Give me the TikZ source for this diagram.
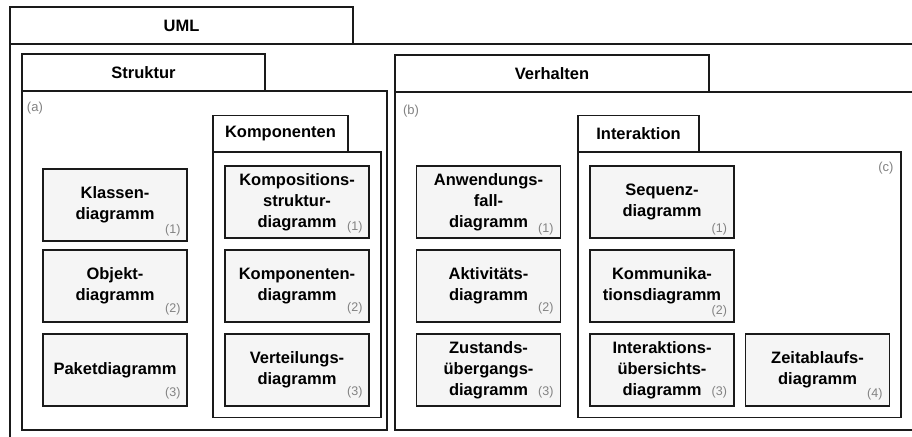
\documentclass[tikz,border=0pt]{standalone}
\usepackage{fontspec}
\setmainfont{Liberation Sans}
\definecolor{numgray}{HTML}{828282}
\definecolor{boxfill}{HTML}{F5F5F5}
\definecolor{linecol}{HTML}{1A1A1A}
\begin{document}
\begin{tikzpicture}[x=1pt,y=-1pt,
  every node/.style={inner sep=0pt, outer sep=0pt},
  frame/.style={draw=linecol, line width=1.2pt, fill=white, anchor=north west},
  tabtitle/.style={frame, font=\fontsize{16.5}{21}\selectfont\bfseries},
  diag/.style={draw=linecol, line width=1.2pt, fill=boxfill, anchor=north west,
    minimum width=144pt, minimum height=72pt, align=center,
    font=\fontsize{16.5}{21}\selectfont\bfseries},
  num/.style={anchor=base east, text=numgray, font=\fontsize{12.5}{15}\selectfont},
  tag/.style={anchor=north west, text=numgray, font=\fontsize{13}{15}\selectfont}]

  \path[use as bounding box, clip] (0,0) rectangle (912,436);

  % outer UML package (runs past the right and bottom edge)
  \node[frame, minimum width=960pt, minimum height=460pt] (umlbody) at (10,44) {};
  \node[tabtitle, minimum width=343pt, minimum height=37pt] (umltab) at (10,7) {UML};

  % Struktur package
  \node[frame, minimum width=365pt, minimum height=339pt] (strbody) at (22,91) {};
  \node[tabtitle, minimum width=243pt, minimum height=37pt] (strtab) at (22,54) {Struktur};
  \node[tag] (taga) at (27,102.5) {(a)};

  % Verhalten package (runs past the right edge)
  \node[frame, minimum width=560pt, minimum height=338pt] (verbody) at (395,92) {};
  \node[tabtitle, minimum width=314pt, minimum height=37pt] (vertab) at (395,55) {Verhalten};
  \node[tag] (tagb) at (403,105.5) {(b)};

  % Komponenten package
  \node[frame, minimum width=168pt, minimum height=265.5pt] (kombody) at (213,152) {};
  \node[tabtitle, minimum width=135pt, minimum height=36.5pt] (komtab) at (213,115.5) {Komponenten};

  % Interaktion package
  \node[frame, minimum width=323pt, minimum height=265.5pt] (intbody) at (578,152) {};
  \node[tabtitle, minimum width=121pt, minimum height=36.5pt] (inttab) at (578,115.5) {Interaktion};
  \node[tag, anchor=north east] (tagc) at (893.5,162.5) {(c)};

  % structure diagrams
  \node[diag] (klassen) at (43,169) {Klassen-\\diagramm};
  \node[num] (nklassen) at ([xshift=-6.5pt,yshift=7.5pt]klassen.south east) {(1)};
  \node[diag] (objekt) at (43,250) {Objekt-\\diagramm};
  \node[num] (nobjekt) at ([xshift=-6.5pt,yshift=9.5pt]objekt.south east) {(2)};
  \node[diag] (paket) at (43,334) {Paketdiagramm};
  \node[num] (npaket) at ([xshift=-6.5pt,yshift=9.5pt]paket.south east) {(3)};

  \node[diag] (kompos) at (225,166) {Kompositions-\\struktur-\\diagramm};
  \node[num] (nkompos) at ([xshift=-6.5pt,yshift=7.5pt]kompos.south east) {(1)};
  \node[diag] (kompon) at (225,250) {Komponenten-\\diagramm};
  \node[num] (nkompon) at ([xshift=-6.5pt,yshift=10.5pt]kompon.south east) {(2)};
  \node[diag] (verteil) at (225,334) {Verteilungs-\\diagramm};
  \node[num] (nverteil) at ([xshift=-6.5pt,yshift=10.5pt]verteil.south east) {(3)};

  % behaviour diagrams
  \node[diag] (anwend) at (416.5,166) {Anwendungs-\\fall-\\diagramm};
  \node[num] (nanwend) at ([xshift=-7pt,yshift=6pt]anwend.south east) {(1)};
  \node[diag] (aktiv) at (416.5,250) {Aktivitäts-\\diagramm};
  \node[num] (naktiv) at ([xshift=-7pt,yshift=11pt]aktiv.south east) {(2)};
  \node[diag] (zustand) at (416.5,334) {Zustands-\\übergangs-\\diagramm};
  \node[num] (nzustand) at ([xshift=-7pt,yshift=11pt]zustand.south east) {(3)};

  \node[diag] (sequenz) at (590,166) {Sequenz-\\diagramm};
  \node[num] (nsequenz) at ([xshift=-7pt,yshift=6pt]sequenz.south east) {(1)};
  \node[diag] (kommun) at (590,250) {Kommunika-\\tionsdiagramm};
  \node[num] (nkommun) at ([xshift=-7pt,yshift=7.5pt]kommun.south east) {(2)};
  \node[diag] (uebers) at (590,334) {Interaktions-\\übersichts-\\diagramm};
  \node[num] (nuebers) at ([xshift=-7pt,yshift=11pt]uebers.south east) {(3)};
  \node[diag] (zeit) at (745.5,334) {Zeitablaufs-\\diagramm};
  \node[num] (nzeit) at ([xshift=-7pt,yshift=8.5pt]zeit.south east) {(4)};
\end{tikzpicture}
\end{document}
